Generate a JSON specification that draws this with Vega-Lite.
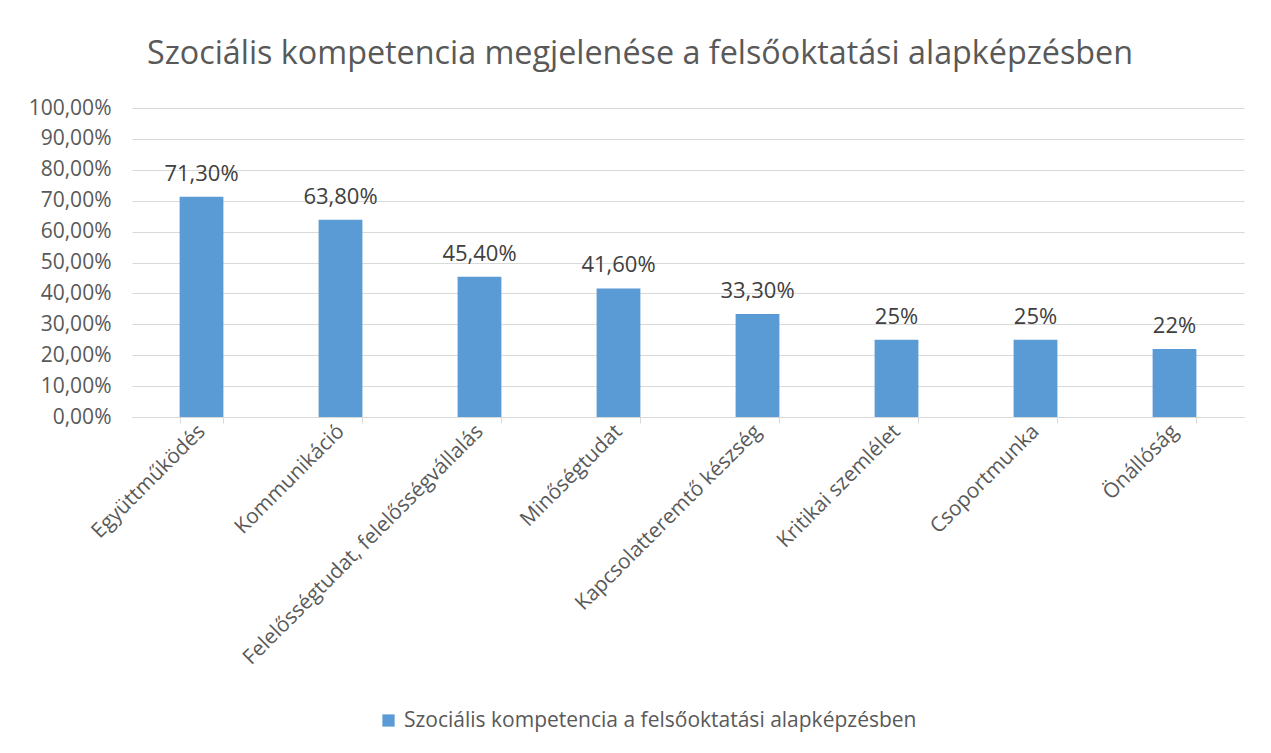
{
  "$schema": "https://vega.github.io/schema/vega-lite/v6.json",
  "width": 1112,
  "height": 309,
  "autosize": "none",
  "padding": {"left": 132, "top": 108, "right": 27, "bottom": 336},
  "background": "white",
  "title": {
    "text": "Szociális kompetencia megjelenése a felsőoktatási alapképzésben",
    "font": "Open Sans",
    "fontSize": 32.3,
    "fontWeight": "normal",
    "color": "#595959",
    "anchor": "middle",
    "dx": -48,
    "offset": 27
  },
  "data": {
    "values": [
      {"kompetencia": "Együttműködés", "ertek": 0.713, "cimke": "71,30%", "sorozat": "Szociális kompetencia a felsőoktatási alapképzésben"},
      {"kompetencia": "Kommunikáció", "ertek": 0.638, "cimke": "63,80%", "sorozat": "Szociális kompetencia a felsőoktatási alapképzésben"},
      {"kompetencia": "Felelősségtudat, felelősségvállalás", "ertek": 0.454, "cimke": "45,40%", "sorozat": "Szociális kompetencia a felsőoktatási alapképzésben"},
      {"kompetencia": "Minőségtudat", "ertek": 0.416, "cimke": "41,60%", "sorozat": "Szociális kompetencia a felsőoktatási alapképzésben"},
      {"kompetencia": "Kapcsolatteremtő készség", "ertek": 0.333, "cimke": "33,30%", "sorozat": "Szociális kompetencia a felsőoktatási alapképzésben"},
      {"kompetencia": "Kritikai szemlélet", "ertek": 0.25, "cimke": "25%", "sorozat": "Szociális kompetencia a felsőoktatási alapképzésben"},
      {"kompetencia": "Csoportmunka", "ertek": 0.25, "cimke": "25%", "sorozat": "Szociális kompetencia a felsőoktatási alapképzésben"},
      {"kompetencia": "Önállóság", "ertek": 0.22, "cimke": "22%", "sorozat": "Szociális kompetencia a felsőoktatási alapképzésben"}
    ]
  },
  "encoding": {
    "x": {
      "field": "kompetencia",
      "type": "nominal",
      "sort": null,
      "title": null,
      "scale": {"paddingInner": 0.685, "paddingOuter": 0.3425},
      "axis": {
        "labelAngle": -45,
        "labelAlign": "right",
        "labelBaseline": "middle",
        "labelFont": "Open Sans",
        "labelFontSize": 20.8,
        "labelColor": "#595959",
        "labelPadding": 5,
        "tickBand": "extent",
        "ticks": true,
        "tickSize": 6,
        "tickColor": "#d9d9d9",
        "domainColor": "#d9d9d9",
        "labelLimit": 0,
        "grid": false
      }
    },
    "y": {
      "field": "ertek",
      "type": "quantitative",
      "title": null,
      "scale": {"domain": [0, 1], "nice": false},
      "axis": {
        "values": [0, 0.1, 0.2, 0.3, 0.4, 0.5, 0.6, 0.7, 0.8, 0.9, 1],
        "labelExpr": "replace(format(datum.value, '.2%'), '.', ',')",
        "labelFont": "Open Sans",
        "labelFontSize": 21,
        "labelColor": "#595959",
        "labelPadding": 21,
        "ticks": false,
        "domain": false,
        "gridColor": "#d9d9d9",
        "gridWidth": 1
      }
    }
  },
  "layer": [
    {
      "mark": {"type": "bar", "color": "#5b9bd5"},
      "encoding": {
        "color": {
          "field": "sorozat",
          "type": "nominal",
          "scale": {"range": ["#5b9bd5"]},
          "legend": {
            "title": null,
            "orient": "none",
            "legendX": 246,
            "legendY": 602,
            "direction": "horizontal",
            "symbolType": "square",
            "symbolSize": 150,
            "symbolStrokeWidth": 0,
            "labelFont": "Open Sans",
            "labelFontSize": 21,
            "labelColor": "#595959",
            "labelLimit": 0,
            "labelOffset": 5
          }
        }
      }
    },
    {
      "mark": {"type": "text", "dy": -23, "font": "Open Sans", "fontSize": 22, "color": "#404040"},
      "encoding": {"text": {"field": "cimke"}}
    }
  ],
  "config": {"view": {"stroke": null}}
}
